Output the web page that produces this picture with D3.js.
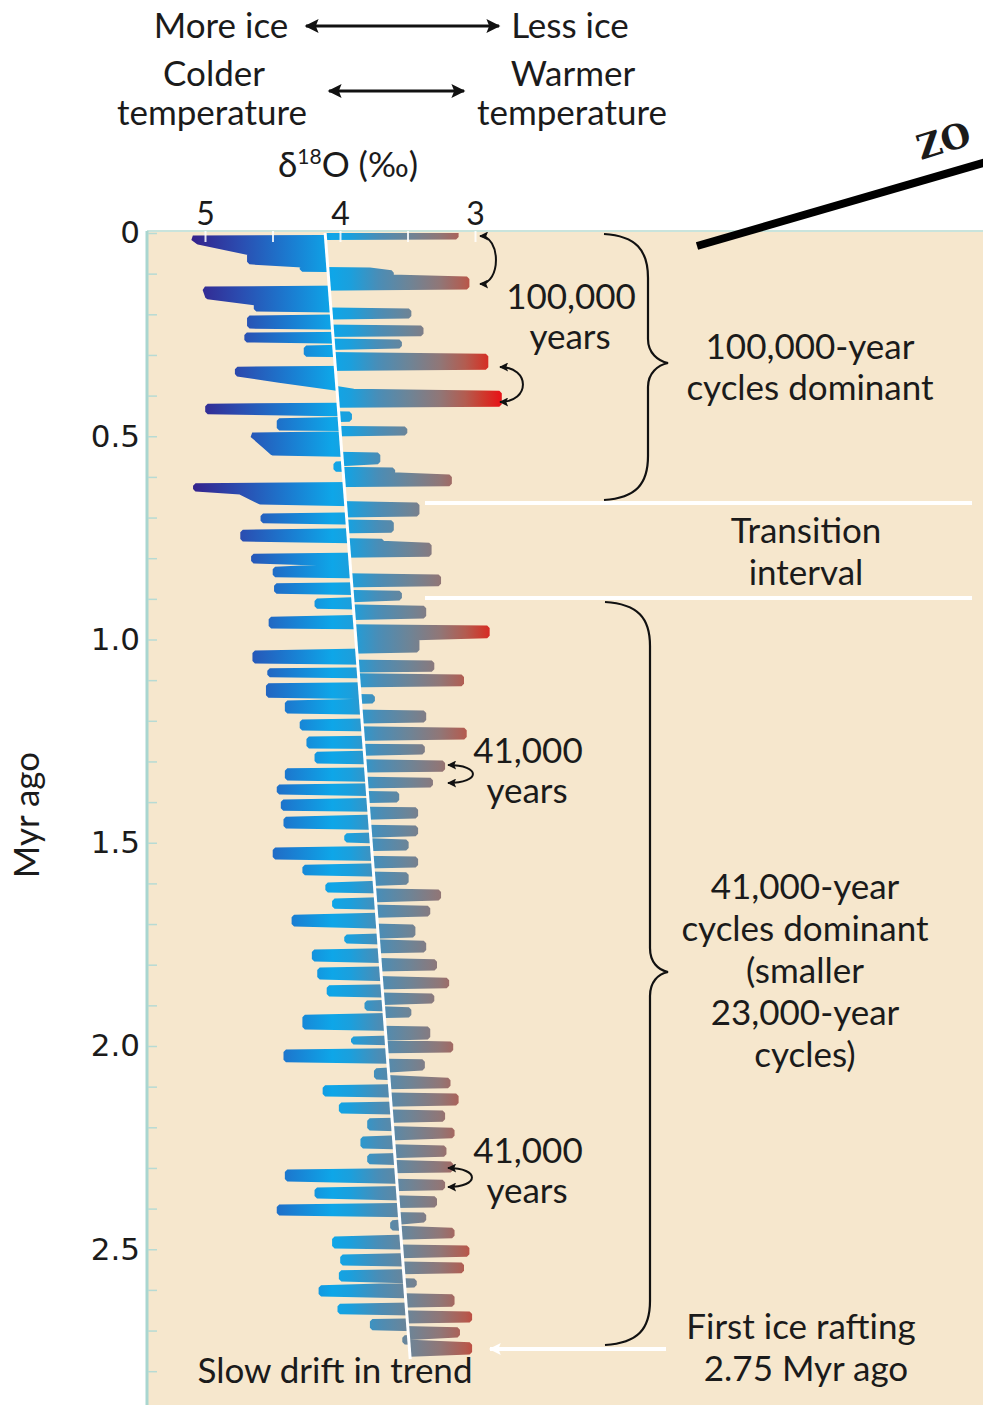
<!DOCTYPE html>
<html>
<head>
<meta charset="utf-8">
<script src="https://cdn.jsdelivr.net/npm/d3@7"></script>
<style>
  body { margin: 0; background: #fff; }
  svg  { display: block; }
  text { font-family: Lato, "Open Sans", sans-serif; fill: #1b1b1b; }
</style>
</head>
<body>
<svg id="chart" width="983" height="1405"></svg>
<script>
// δ18O record of the last ~2.75 Myr.
// Ages in Myr (down the page), δ18O in ‰ (axis reversed: 5 left, 3 right).
const ageMyr = [
  0.000, 0.010, 0.012, 0.022, 0.049, 0.071, 0.079, 0.089, 0.091, 0.098,
  0.108, 0.113, 0.133, 0.138, 0.157, 0.172, 0.187, 0.192, 0.204, 0.209,
  0.229, 0.234, 0.248, 0.251, 0.263, 0.268, 0.278, 0.283, 0.298, 0.303,
  0.330, 0.335, 0.347, 0.362, 0.381, 0.389, 0.394, 0.421, 0.426, 0.440,
  0.445, 0.458, 0.462, 0.480, 0.482, 0.492, 0.497, 0.526, 0.541, 0.546,
  0.563, 0.568, 0.581, 0.583, 0.595, 0.600, 0.617, 0.622, 0.630, 0.637,
  0.662, 0.669, 0.691, 0.696, 0.708, 0.713, 0.731, 0.736, 0.753, 0.758,
  0.763, 0.768, 0.790, 0.795, 0.807, 0.812, 0.822, 0.827, 0.841, 0.846,
  0.863, 0.868, 0.881, 0.886, 0.898, 0.905, 0.918, 0.923, 0.942, 0.950,
  0.967, 0.972, 0.991, 0.996, 1.026, 1.033, 1.053, 1.058, 1.073, 1.077,
  1.087, 1.092, 1.109, 1.114, 1.137, 1.141, 1.151, 1.156, 1.176, 1.181,
  1.198, 1.203, 1.218, 1.223, 1.240, 1.245, 1.262, 1.264, 1.277, 1.282,
  1.299, 1.304, 1.319, 1.323, 1.341, 1.346, 1.358, 1.363, 1.375, 1.380,
  1.395, 1.400, 1.415, 1.419, 1.434, 1.442, 1.459, 1.464, 1.478, 1.483,
  1.493, 1.498, 1.513, 1.518, 1.535, 1.540, 1.555, 1.560, 1.574, 1.579,
  1.597, 1.604, 1.616, 1.621, 1.636, 1.643, 1.656, 1.661, 1.675, 1.683,
  1.700, 1.707, 1.727, 1.732, 1.742, 1.747, 1.764, 1.769, 1.786, 1.793,
  1.808, 1.813, 1.830, 1.838, 1.852, 1.857, 1.872, 1.877, 1.889, 1.894,
  1.907, 1.911, 1.924, 1.929, 1.953, 1.958, 1.978, 1.983, 1.990, 1.995,
  2.010, 2.015, 2.034, 2.039, 2.054, 2.061, 2.076, 2.084, 2.098, 2.103,
  2.118, 2.123, 2.140, 2.145, 2.160, 2.165, 2.180, 2.184, 2.202, 2.207,
  2.221, 2.229, 2.246, 2.251, 2.266, 2.271, 2.285, 2.290, 2.305, 2.310,
  2.327, 2.335, 2.349, 2.354, 2.369, 2.376, 2.391, 2.396, 2.411, 2.416,
  2.428, 2.435, 2.448, 2.453, 2.467, 2.475, 2.492, 2.497, 2.512, 2.519,
  2.534, 2.539, 2.553, 2.558, 2.573, 2.578, 2.588, 2.595, 2.610, 2.617,
  2.635, 2.640, 2.654, 2.659, 2.674, 2.678, 2.693, 2.698, 2.711, 2.718,
  2.728, 2.735, 2.753, 2.758
];
const d18O = [
  3.14, 3.14, 5.09, 5.05, 4.67, 4.67, 4.28, 4.28, 3.78, 3.62,
  3.62, 3.06, 3.06, 5.00, 4.98, 4.62, 4.62, 3.49, 3.49, 4.67,
  4.67, 3.40, 3.40, 4.69, 4.69, 3.56, 3.56, 4.25, 4.25, 2.92,
  2.92, 4.76, 4.76, 4.45, 4.05, 3.90, 2.82, 2.82, 4.98, 4.98,
  3.93, 3.93, 4.45, 4.45, 3.52, 3.52, 4.65, 4.55, 4.50, 3.72,
  3.72, 4.03, 4.03, 3.61, 3.61, 3.19, 3.19, 5.07, 5.07, 4.74,
  4.59, 3.43, 3.43, 4.57, 4.57, 3.62, 3.62, 4.72, 4.72, 3.69,
  3.69, 3.34, 3.34, 4.64, 4.64, 4.17, 4.17, 4.48, 4.48, 3.27,
  3.27, 4.47, 4.47, 3.56, 3.56, 4.17, 4.17, 3.38, 3.38, 4.51,
  4.51, 2.91, 2.91, 3.43, 3.43, 4.63, 4.63, 3.32, 3.32, 4.52,
  4.52, 3.10, 3.10, 4.53, 4.53, 3.76, 3.76, 4.39, 4.39, 3.38,
  3.38, 4.28, 4.28, 3.08, 3.08, 4.23, 4.23, 3.39, 3.39, 4.17,
  4.17, 3.24, 3.24, 4.39, 4.39, 3.33, 3.33, 4.45, 4.45, 3.58,
  3.58, 4.42, 4.42, 3.44, 3.44, 4.40, 4.40, 3.44, 3.44, 3.95,
  3.95, 3.51, 3.51, 4.48, 4.48, 3.44, 3.44, 4.26, 4.26, 3.51,
  3.51, 4.09, 4.09, 3.27, 3.27, 4.04, 4.04, 3.35, 3.35, 4.34,
  4.34, 3.46, 3.46, 3.95, 3.95, 3.38, 3.38, 4.19, 4.19, 3.30,
  3.30, 4.15, 4.15, 3.21, 3.21, 4.08, 4.08, 3.32, 3.32, 3.80,
  3.80, 3.49, 3.49, 4.26, 4.26, 3.35, 3.35, 3.90, 3.90, 3.18,
  3.18, 4.40, 4.40, 3.39, 3.39, 3.73, 3.73, 3.20, 3.20, 4.11,
  4.11, 3.14, 3.14, 3.99, 3.99, 3.24, 3.24, 3.78, 3.78, 3.17,
  3.17, 3.83, 3.83, 3.23, 3.23, 3.78, 3.78, 3.18, 3.18, 4.39,
  4.39, 3.24, 3.24, 4.17, 4.17, 3.30, 3.30, 4.45, 4.45, 3.38,
  3.38, 3.61, 3.61, 3.17, 3.17, 4.04, 4.04, 3.06, 3.06, 3.98,
  3.98, 3.10, 3.10, 3.99, 3.99, 3.45, 3.45, 4.14, 4.14, 3.17,
  3.17, 4.00, 4.00, 3.04, 3.04, 3.76, 3.76, 3.13, 3.13, 3.52,
  3.52, 3.04, 3.04, 3.48
];

// Slow drift in trend (white line), end points
const trendAge = [0, 2.77];
const trendVal = [4.11, 3.48];

const xTicks = [5, 4, 3];
const xMinorTicks = [5, 4.5, 4, 3.5, 3];
const yTicks = [0, 0.5, 1.0, 1.5, 2.0, 2.5];
const yMinorTicks = d3.range(0, 2.85, 0.1);

// ─── Layout ──────────────────────────────────────────────────────────────────
const W = 983, H = 1405;
const plot = { left: 147, top: 231, right: 983, bottom: 1405 };

const x = d3.scaleLinear().domain([5, 3]).range([205, 475]);
const y = d3.scaleLinear().domain([0, 2.5]).range([233, 1249.25]);
const trend = d3.scaleLinear().domain(trendAge).range(trendVal);

const series = ageMyr.map((a, i) => ({ age: a, v: d18O[i] }));

const svg = d3.select('#chart');
svg.append('rect').attr('width', W).attr('height', H).attr('fill', '#fff');

const defs = svg.append('defs');

// horizontal colour ramp: blue (more ice) → red (less ice)
const grad = defs.append('linearGradient')
  .attr('id', 'iceRamp')
  .attr('gradientUnits', 'userSpaceOnUse')
  .attr('x1', x(5.11)).attr('x2', x(2.82))
  .attr('y1', 0).attr('y2', 0);
[
  [0.00, '#35208a'], [0.16, '#2b4cb0'], [0.32, '#1b7bd0'], [0.46, '#0ea6e8'],
  [0.52, '#1c9fdc'], [0.61, '#4a8db6'], [0.71, '#6e8496'], [0.81, '#917676'],
  [0.89, '#b35c50'], [0.95, '#cf382c'], [1.00, '#e5161a']
].forEach(([o, c]) => grad.append('stop').attr('offset', o).attr('stop-color', c));

function marker(id, color, w, h) {
  defs.append('marker')
    .attr('id', id)
    .attr('viewBox', '0 0 10 10')
    .attr('refX', 9).attr('refY', 5)
    .attr('markerUnits', 'userSpaceOnUse')
    .attr('markerWidth', w).attr('markerHeight', h)
    .attr('orient', 'auto-start-reverse')
    .append('path').attr('d', 'M0,0 L10,5 L0,10 L2,5 z').attr('fill', color);
}
marker('headBig', '#111', 20, 14);
marker('headSmall', '#111', 10, 9);
marker('headWhite', '#fff', 18, 12);

// ─── Plot background ─────────────────────────────────────────────────────────
svg.append('rect')
  .attr('x', plot.left).attr('y', plot.top)
  .attr('width', plot.right - plot.left).attr('height', plot.bottom - plot.top)
  .attr('fill', '#f6e7cd');
svg.append('line')
  .attr('x1', plot.left).attr('x2', plot.right).attr('y1', plot.top).attr('y2', plot.top)
  .attr('stroke', '#c9e4dc').attr('stroke-width', 2);
svg.append('line')
  .attr('x1', plot.left).attr('x2', plot.left).attr('y1', plot.top).attr('y2', plot.bottom)
  .attr('stroke', '#a9d6d0').attr('stroke-width', 3);

// minor age ticks inside the left edge
svg.append('g')
  .attr('transform', `translate(${plot.left + 1},0)`)
  .call(d3.axisRight(y).tickValues(yMinorTicks).tickSize(9).tickFormat(''))
  .call(g => g.select('.domain').remove())
  .call(g => g.selectAll('line').attr('stroke', '#b7dbd4').attr('stroke-width', 1.5));

// ─── δ18O curve: filled between the trend line and the record ────────────────
const area = d3.area()
  .y(d => y(d.age))
  .x0(d => x(trend(d.age)))
  .x1(d => x(d.v));

const line = d3.line()
  .y(d => y(d.age))
  .x(d => x(d.v));

const clip = defs.append('clipPath').attr('id', 'plotClip');
clip.append('rect')
  .attr('x', plot.left).attr('y', plot.top)
  .attr('width', plot.right - plot.left).attr('height', plot.bottom - plot.top);

const curve = svg.append('g').attr('clip-path', 'url(#plotClip)');
curve.append('path')
  .datum(series)
  .attr('d', area)
  .attr('fill', 'url(#iceRamp)');
curve.append('path')
  .datum(series)
  .attr('d', line)
  .attr('fill', 'none')
  .attr('stroke', 'url(#iceRamp)')
  .attr('stroke-width', 5)
  .attr('stroke-linejoin', 'bevel');

// white top ticks (visible across the first band)
svg.append('g')
  .attr('transform', `translate(0,${plot.top})`)
  .call(d3.axisBottom(x).tickValues(xMinorTicks).tickSize(11).tickFormat(''))
  .call(g => g.select('.domain').remove())
  .call(g => g.selectAll('line').attr('stroke', '#fff').attr('stroke-width', 2).attr('opacity', 0.85));

// trend line
svg.append('line')
  .attr('x1', x(trendVal[0])).attr('y1', y(trendAge[0]))
  .attr('x2', x(trendVal[1])).attr('y2', y(trendAge[1]))
  .attr('stroke', '#fff').attr('stroke-width', 3);

// ─── Axes ────────────────────────────────────────────────────────────────────
svg.append('g')
  .attr('transform', `translate(${plot.left},0)`)
  .call(d3.axisLeft(y).tickValues(yTicks).tickSize(0).tickPadding(7)
    .tickFormat(d => d === 0 ? '0' : d3.format('.1f')(d)))
  .call(g => g.select('.domain').remove())
  .call(g => g.selectAll('text')
    .style('font-family', '"DejaVu Sans", Verdana, sans-serif')
    .style('font-size', '31px').attr('fill', '#1b1b1b'));

svg.append('g')
  .attr('transform', `translate(0,${plot.top - 6})`)
  .call(d3.axisTop(x).tickValues(xTicks).tickSize(0).tickPadding(0).tickFormat(d3.format('d')))
  .call(g => g.select('.domain').remove())
  .call(g => g.selectAll('text')
    .style('font-family', 'Lato, sans-serif')
    .style('font-size', '32px').attr('fill', '#1b1b1b'));

svg.append('text')
  .attr('transform', 'translate(39,815) rotate(-90)')
  .attr('text-anchor', 'middle')
  .style('font-size', '35px')
  .text('Myr ago');

// ─── Header ──────────────────────────────────────────────────────────────────
function label(txt, cx, by, size = 35, anchor = 'middle') {
  return svg.append('text')
    .attr('x', cx).attr('y', by)
    .attr('text-anchor', anchor)
    .style('font-size', size + 'px')
    .text(txt);
}

label('More ice', 221, 38);
label('Less ice', 570, 38);
label('Colder', 214, 86);
label('Warmer', 573, 86);
label('temperature', 212, 125);
label('temperature', 572, 125);

svg.append('line')
  .attr('x1', 306).attr('x2', 499).attr('y1', 26).attr('y2', 26)
  .attr('stroke', '#111').attr('stroke-width', 3)
  .attr('marker-start', 'url(#headBig)').attr('marker-end', 'url(#headBig)');
svg.append('line')
  .attr('x1', 329).attr('x2', 464).attr('y1', 91).attr('y2', 91)
  .attr('stroke', '#111').attr('stroke-width', 3)
  .attr('marker-start', 'url(#headBig)').attr('marker-end', 'url(#headBig)');

const dTitle = svg.append('text')
  .attr('x', 348).attr('y', 177).attr('text-anchor', 'middle')
  .style('font-size', '35px');
dTitle.append('tspan').text('δ');
dTitle.append('tspan').attr('dy', -13).style('font-size', '21px').text('18');
dTitle.append('tspan').attr('dy', 13).text('O (‰)');

// ─── Annotations ─────────────────────────────────────────────────────────────
function curlyArrow(x0, yTop, yBot, bulge) {
  const bx = x0 + (bulge - x0) * 1.33;
  svg.append('path')
    .attr('d', `M${x0},${yTop} C${bx},${yTop} ${bx},${yBot} ${x0},${yBot}`)
    .attr('fill', 'none').attr('stroke', '#111').attr('stroke-width', 2)
    .attr('marker-start', 'url(#headSmall)').attr('marker-end', 'url(#headSmall)');
}
curlyArrow(480, 236, 284, 496);
curlyArrow(500, 367, 402, 523);
curlyArrow(448, 765, 783, 473);
curlyArrow(448, 1168, 1187, 472);

label('100,000', 571, 309);
label('years', 570, 349);
label('41,000', 528, 763);
label('years', 527, 803);
label('41,000', 528, 1163);
label('years', 527, 1203);

function brace(xEnd, xSpine, xTip, yTop, yMid, yBot) {
  const p = `M${xEnd},${yTop} C${xSpine - 12},${yTop + 2} ${xSpine},${yTop + 16} ${xSpine},${yTop + 44}
    L${xSpine},${yMid - 24} C${xSpine},${yMid - 10} ${xTip - 10},${yMid - 2} ${xTip},${yMid}
    C${xTip - 10},${yMid + 2} ${xSpine},${yMid + 10} ${xSpine},${yMid + 24}
    L${xSpine},${yBot - 44} C${xSpine},${yBot - 16} ${xSpine - 12},${yBot - 2} ${xEnd},${yBot}`;
  svg.append('path').attr('d', p)
    .attr('fill', 'none').attr('stroke', '#111').attr('stroke-width', 2.2);
}
brace(604, 648, 668, 234, 363, 500);
brace(605, 650, 668, 602, 972, 1345);

label('100,000-year', 810, 359);
label('cycles dominant', 810, 400);

svg.append('line').attr('x1', 425).attr('x2', 972).attr('y1', 503).attr('y2', 503)
  .attr('stroke', '#fff').attr('stroke-width', 4);
svg.append('line').attr('x1', 425).attr('x2', 972).attr('y1', 598).attr('y2', 598)
  .attr('stroke', '#fff').attr('stroke-width', 4);
label('Transition', 806, 543);
label('interval', 806, 585);

['41,000-year', 'cycles dominant', '(smaller', '23,000-year', 'cycles)']
  .forEach((t, i) => label(t, 805, 899 + i * 42));

label('First ice rafting', 801, 1339);
label('2.75 Myr ago', 806, 1381);
svg.append('line')
  .attr('x1', 666).attr('x2', 490).attr('y1', 1349).attr('y2', 1349)
  .attr('stroke', '#fff').attr('stroke-width', 4)
  .attr('marker-end', 'url(#headWhite)');

label('Slow drift in trend', 335, 1383);

// "ZO…" pointer in the top right corner
svg.append('line')
  .attr('x1', 697).attr('y1', 246).attr('x2', 990).attr('y2', 161)
  .attr('stroke', '#000').attr('stroke-width', 8);
svg.append('text')
  .attr('transform', 'translate(921,160) rotate(-17)')
  .style('font-family', '"DejaVu Serif", serif')
  .style('font-weight', 'bold')
  .style('font-size', '34px')
  .attr('fill', '#000')
  .text('ZO');
</script>
</body>
</html>
